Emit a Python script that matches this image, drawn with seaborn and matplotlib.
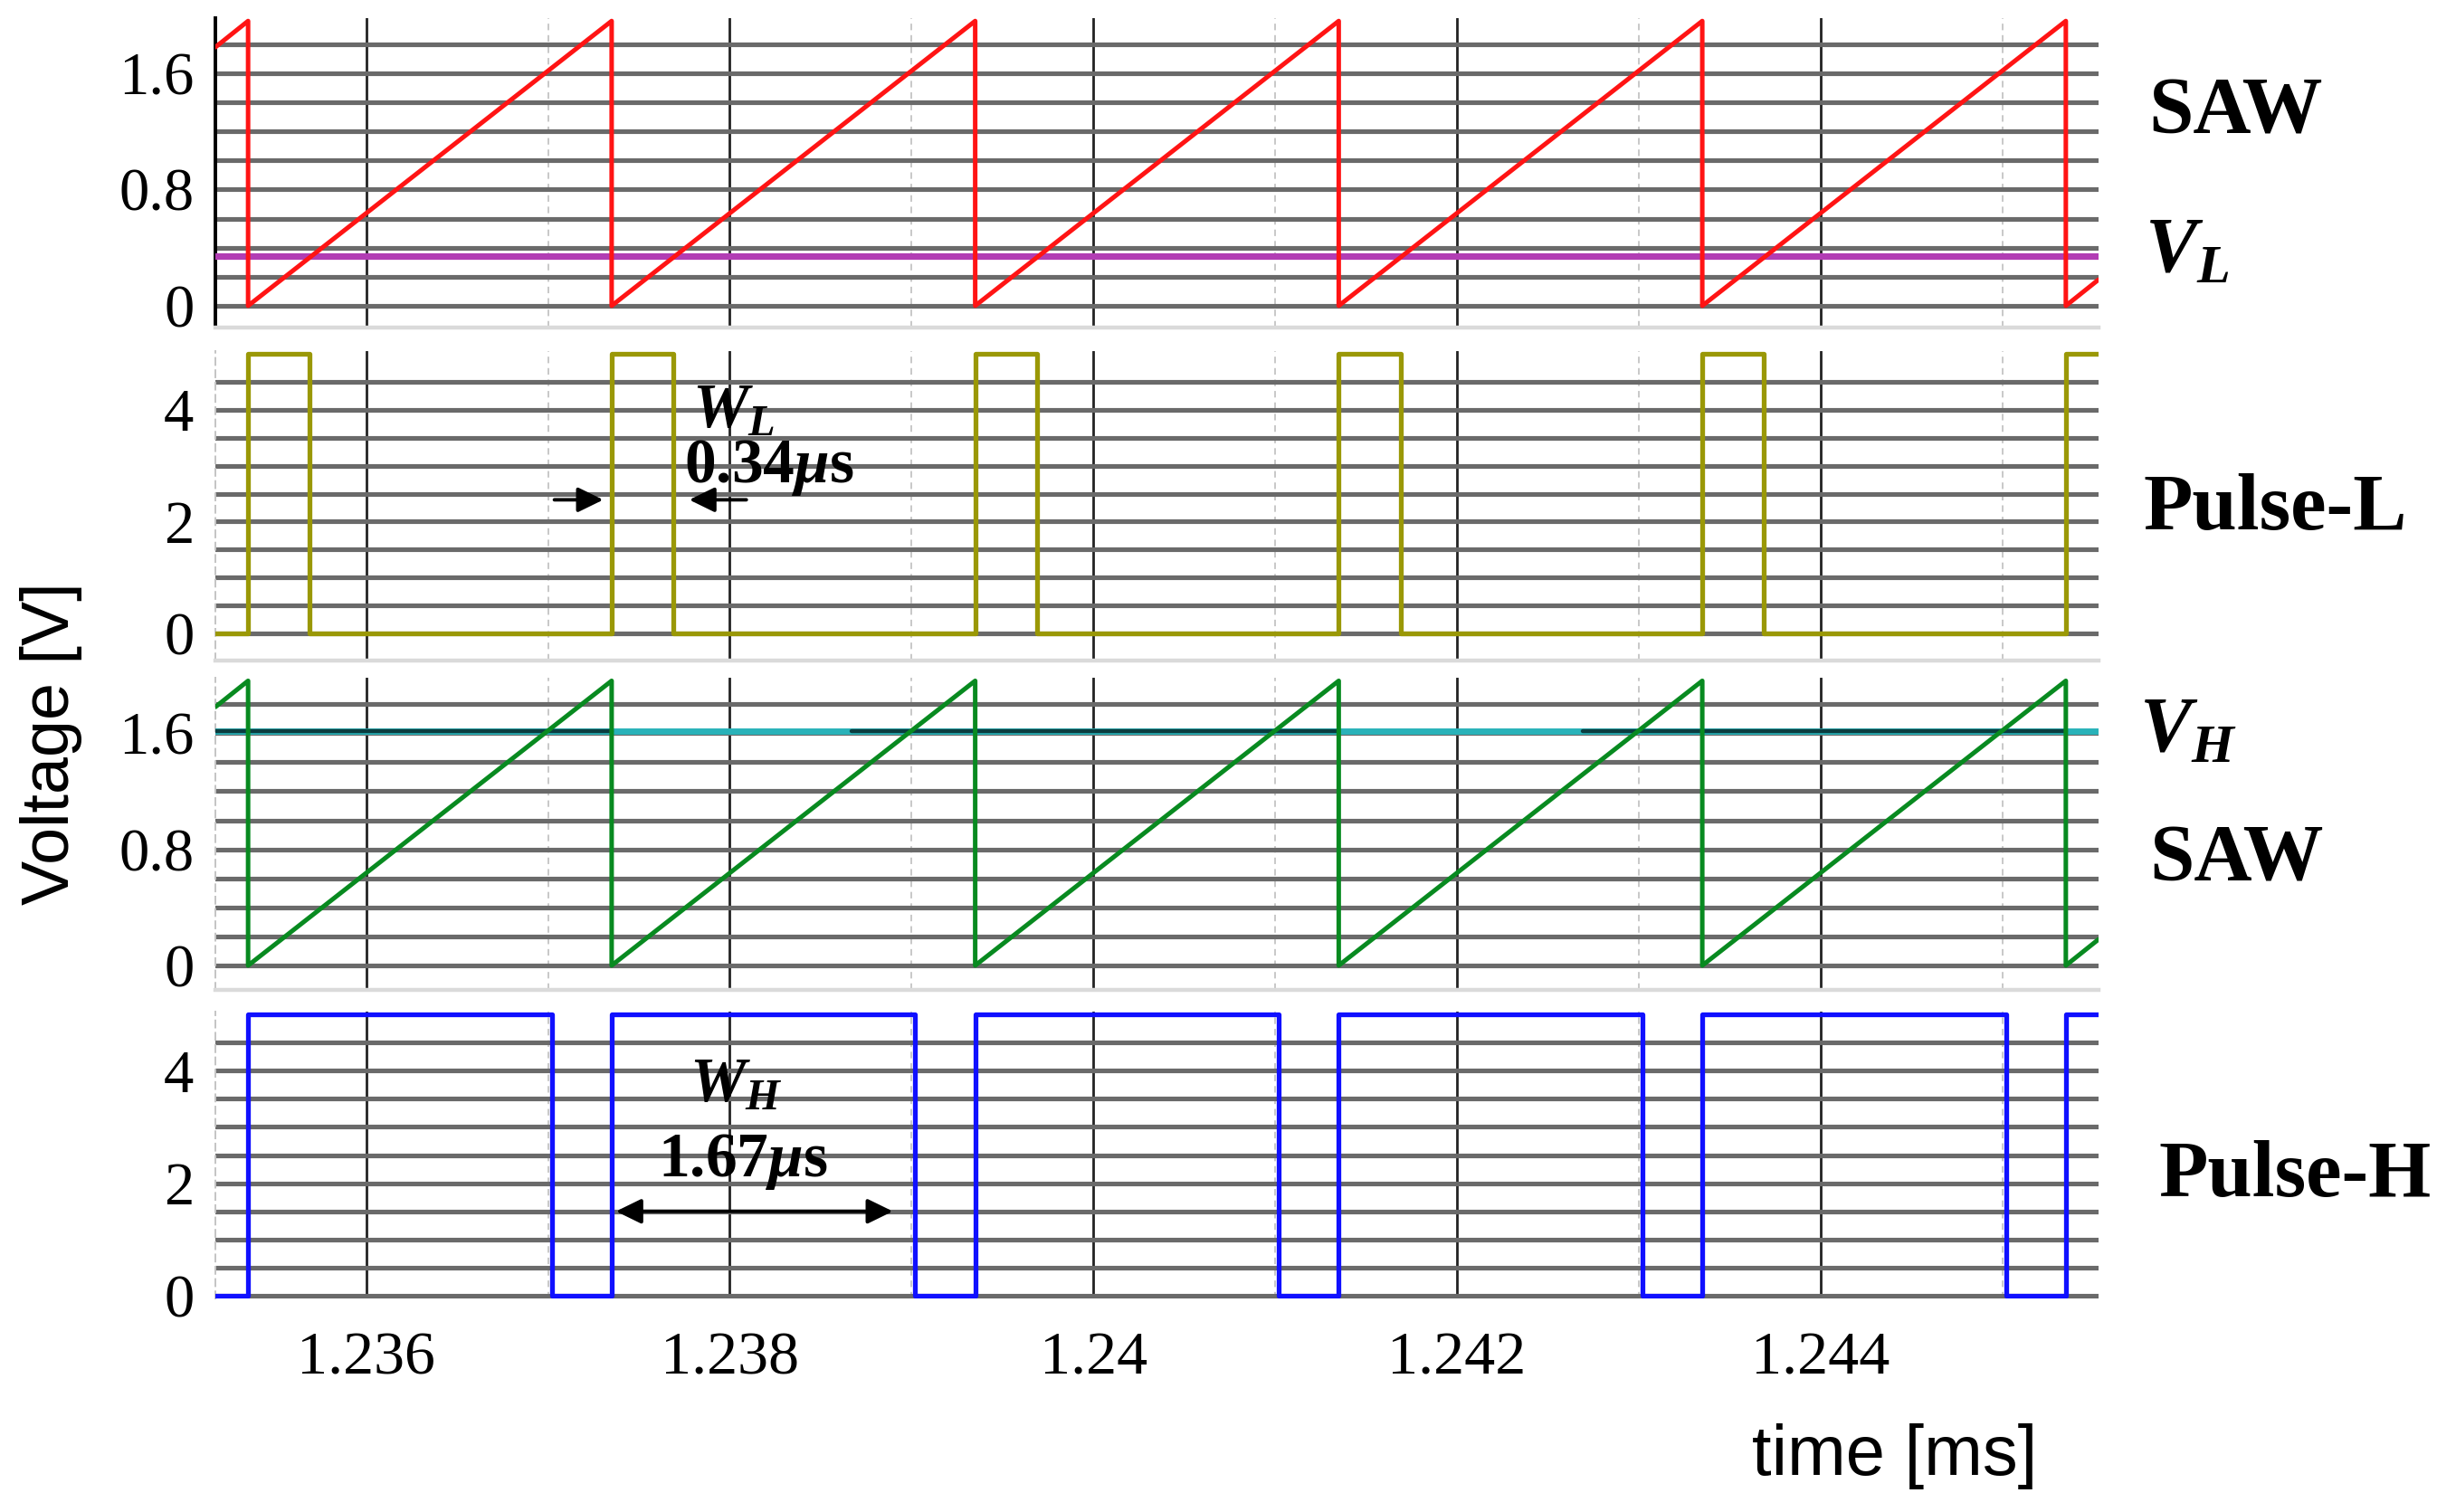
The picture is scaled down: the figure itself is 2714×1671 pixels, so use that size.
import numpy as np
import pandas as pd
import matplotlib
matplotlib.use("Agg")
import matplotlib.pyplot as plt
import seaborn as sns

# ---------------- data ----------------
saw_t = [1.23517, 1.23535, 1.23535, 1.23735, 1.23735, 1.23935, 1.23935,
         1.24135, 1.24135, 1.24335, 1.24335, 1.24535, 1.24535, 1.24553]
saw_v = [1.78, 1.96, 0.0, 1.96, 0.0, 1.96, 0.0,
         1.96, 0.0, 1.96, 0.0, 1.96, 0.0, 0.18]

pulse_l_t = [1.23517, 1.23535, 1.23535, 1.23569, 1.23569,
             1.23735, 1.23735, 1.23769, 1.23769,
             1.23935, 1.23935, 1.23969, 1.23969,
             1.24135, 1.24135, 1.24169, 1.24169,
             1.24335, 1.24335, 1.24369, 1.24369,
             1.24535, 1.24535, 1.24553]
pulse_l_v = [0, 0, 5, 5, 0,
             0, 5, 5, 0,
             0, 5, 5, 0,
             0, 5, 5, 0,
             0, 5, 5, 0,
             0, 5, 5]

pulse_h_t = [1.23517, 1.23535, 1.23535, 1.23702, 1.23702,
             1.23735, 1.23735, 1.23902, 1.23902,
             1.23935, 1.23935, 1.24102, 1.24102,
             1.24135, 1.24135, 1.24302, 1.24302,
             1.24335, 1.24335, 1.24502, 1.24502,
             1.24535, 1.24535, 1.24553]
pulse_h_v = [0, 0, 5, 5, 0,
             0, 5, 5, 0,
             0, 5, 5, 0,
             0, 5, 5, 0,
             0, 5, 5, 0,
             0, 5, 5]

v_l_level = 0.34
v_h_level = 1.615
ref_line_t = [1.23517, 1.24553]
v_h_dark_start = [1.23517, 1.23867, 1.24269]
v_h_dark_end = [1.23735, 1.24135, 1.24535]

x_major = [1.236, 1.238, 1.240, 1.242, 1.244]
x_major_labels = ["1.236", "1.238", "1.24", "1.242", "1.244"]
x_minor = [1.237, 1.239, 1.241, 1.243, 1.245]

saw_ticks = [0, 0.8, 1.6]
saw_tick_labels = ["0", "0.8", "1.6"]
saw_grid = [0, 0.2, 0.4, 0.6, 0.8, 1.0, 1.2, 1.4, 1.6, 1.8]
pulse_ticks = [0, 2, 4]
pulse_tick_labels = ["0", "2", "4"]
pulse_grid = [0, 0.5, 1.0, 1.5, 2.0, 2.5, 3.0, 3.5, 4.0, 4.5]

w_l_arrow_y = 2.39
w_l_arrow_right = (1.237035, 1.237304)   # tail, tip
w_l_arrow_left = (1.238091, 1.237777)    # tail, tip
w_h_arrow_y = 1.5
w_h_arrow = (1.237374, 1.238897)

# ---------------- style ----------------
sns.set_theme(style="white")
plt.rcParams["font.family"] = ["Liberation Serif", "DejaVu Serif"]
plt.rcParams["text.color"] = "black"
plt.rcParams["axes.labelcolor"] = "black"
plt.rcParams["xtick.color"] = "black"
plt.rcParams["ytick.color"] = "black"
plt.rcParams["mathtext.fontset"] = "custom"
plt.rcParams["mathtext.it"] = "Liberation Serif:italic:bold"
plt.rcParams["mathtext.rm"] = "Liberation Serif:bold"
plt.rcParams["mathtext.bf"] = "Liberation Serif:bold"

W, H = 2714, 1671
fig = plt.figure(figsize=(W / 100, H / 100), dpi=100)
fig.patch.set_facecolor("white")

def fx(px):
    return px / W

def fy(py):
    return 1 - py / H

x0, x1 = 238, 2319
xlim = (1.23517, 1.24553)
panels = [
    # (top px, bottom px, ylim)
    (20, 362, (-0.15, 1.98)),
    (388, 730.3, (-0.49, 5.05)),
    (749.2, 1094.3, (-0.17, 1.98)),
    (1117.9, 1435.1, (-0.05, 5.05)),
]
axes = []
for top, bot, yl in panels:
    ax = fig.add_axes([fx(x0), fy(bot), fx(x1 - x0), (bot - top) / H])
    ax.set_xlim(*xlim)
    ax.set_ylim(*yl)
    ax.set_facecolor("white")
    axes.append(ax)

GRID_H = dict(color="#6a6a6a", lw=3.7)
for i, ax in enumerate(axes):
    is_saw = i in (0, 2)
    ax.set_yticks(saw_ticks if is_saw else pulse_ticks)
    ax.set_yticklabels(saw_tick_labels if is_saw else pulse_tick_labels)
    ax.set_yticks(saw_grid if is_saw else pulse_grid, minor=True)
    ax.set_xticks(x_major)
    ax.set_xticks(x_minor, minor=True)
    if i == 3:
        ax.set_xticklabels(x_major_labels)
    else:
        ax.set_xticklabels([])
    ax.set_axisbelow(True)
    ax.yaxis.grid(True, which="both", **GRID_H)
    ax.xaxis.grid(True, which="major", color="#222222", lw=2.0)
    ax.xaxis.grid(True, which="minor", color="#c4c4c4", lw=1.3, ls=(0, (4, 3)))
    ax.tick_params(axis="both", which="both", length=0, colors="black")
    ax.tick_params(axis="y", pad=17, labelsize=48)
    ax.tick_params(axis="x", pad=26, labelsize=49)
    ax.spines["top"].set_visible(False)
    ax.spines["right"].set_visible(False)
    if i == 0:
        ax.spines["left"].set_color("black")
        ax.spines["left"].set_linewidth(2.8)
    else:
        ax.spines["left"].set_color("#c4c4c4")
        ax.spines["left"].set_linewidth(1.4)
        ax.spines["left"].set_linestyle((0, (4, 3)))
    if i < 3:
        ax.spines["bottom"].set_color("#dadada")
        ax.spines["bottom"].set_linewidth(3.2)
    else:
        ax.spines["bottom"].set_visible(False)
    ax.set_xlabel("")
    ax.set_ylabel("")

ax1, ax2, ax3, ax4 = axes

df_saw = pd.DataFrame({"t": saw_t, "v": saw_v})
df_pl = pd.DataFrame({"t": pulse_l_t, "v": pulse_l_v})
df_ph = pd.DataFrame({"t": pulse_h_t, "v": pulse_h_v})
df_vl = pd.DataFrame({"t": ref_line_t, "v": [v_l_level] * len(ref_line_t)})
df_vh = pd.DataFrame({"t": ref_line_t, "v": [v_h_level] * len(ref_line_t)})

# Panel 1: red saw + V_L
sns.lineplot(data=df_vl, x="t", y="v", ax=ax1, estimator=None, sort=False,
             color="#b23db4", lw=5.2, zorder=3)
sns.lineplot(data=df_saw, x="t", y="v", ax=ax1, estimator=None, sort=False,
             color="#ff1414", lw=3.6, zorder=4)

# Panel 2: Pulse-L
sns.lineplot(data=df_pl, x="t", y="v", ax=ax2, estimator=None, sort=False,
             color="#9a9806", lw=3.8, zorder=4)

# Panel 3: green saw + V_H
sns.lineplot(data=df_vh, x="t", y="v", ax=ax3, estimator=None, sort=False,
             color="#29b2b9", lw=5.0, zorder=3)
for s, e in zip(v_h_dark_start, v_h_dark_end):
    seg = pd.DataFrame({"t": [s, e], "v": [v_h_level, v_h_level]})
    sns.lineplot(data=seg, x="t", y="v", ax=ax3, estimator=None, sort=False,
                 color="#0b3d40", lw=3.2, zorder=3.5)
sns.lineplot(data=df_saw, x="t", y="v", ax=ax3, estimator=None, sort=False,
             color="#088a20", lw=3.6, zorder=4)

# Panel 4: Pulse-H
sns.lineplot(data=df_ph, x="t", y="v", ax=ax4, estimator=None, sort=False,
             color="#1010ff", lw=3.8, zorder=4)

for ax in axes:
    ax.set_xlabel("")
    ax.set_ylabel("")
    if ax.get_legend() is not None:
        ax.get_legend().remove()

# annotation arrows
akw = dict(arrowstyle="-|>,head_length=0.45,head_width=0.22", color="black",
           lw=2.8, mutation_scale=38, shrinkA=0, shrinkB=0)
ax2.annotate("", xy=(w_l_arrow_right[1], w_l_arrow_y),
             xytext=(w_l_arrow_right[0], w_l_arrow_y), arrowprops=akw, zorder=6)
ax2.annotate("", xy=(w_l_arrow_left[1], w_l_arrow_y),
             xytext=(w_l_arrow_left[0], w_l_arrow_y), arrowprops=akw, zorder=6)
akw2 = dict(akw)
akw2["arrowstyle"] = "<|-|>,head_length=0.45,head_width=0.22"
ax4.annotate("", xy=(w_h_arrow[1], w_h_arrow_y),
             xytext=(w_h_arrow[0], w_h_arrow_y), arrowprops=akw2, zorder=6)

# annotation texts
fig.text(fx(765), fy(472), r"$W_L$", fontsize=50, ha="left", va="baseline")
fig.text(fx(756), fy(533), r"0.34$\mu$s", fontsize=50, fontweight="bold",
         ha="left", va="baseline")
fig.text(fx(762), fy(1217), r"$W_H$", fontsize=50, ha="left", va="baseline")
fig.text(fx(727), fy(1300), r"1.67$\mu$s", fontsize=50, fontweight="bold",
         ha="left", va="baseline")

# right-side labels
lab = dict(fontsize=64, fontweight="bold", ha="left", va="baseline")
fig.text(fx(2374), fy(146), "SAW", **lab)
fig.text(fx(2370), fy(300), r"$V_L$", fontsize=62, ha="left", va="baseline")
fig.text(fx(2368), fy(585), "Pulse-L", **lab)
fig.text(fx(2364), fy(830), r"$V_H$", fontsize=62, ha="left", va="baseline")
fig.text(fx(2375), fy(973), "SAW", **lab)
fig.text(fx(2385), fy(1322), "Pulse-H", **lab)

# axis titles
fig.text(fx(57), fy(822), "Voltage [V]", rotation=90, fontsize=53,
         family=["Liberation Sans", "DejaVu Sans"], ha="center", va="center")
fig.text(fx(2094), fy(1610), "time [ms]", fontsize=56,
         family=["Liberation Sans", "DejaVu Sans"], ha="center", va="center")

fig.savefig("out.png", dpi=100, facecolor="white")
